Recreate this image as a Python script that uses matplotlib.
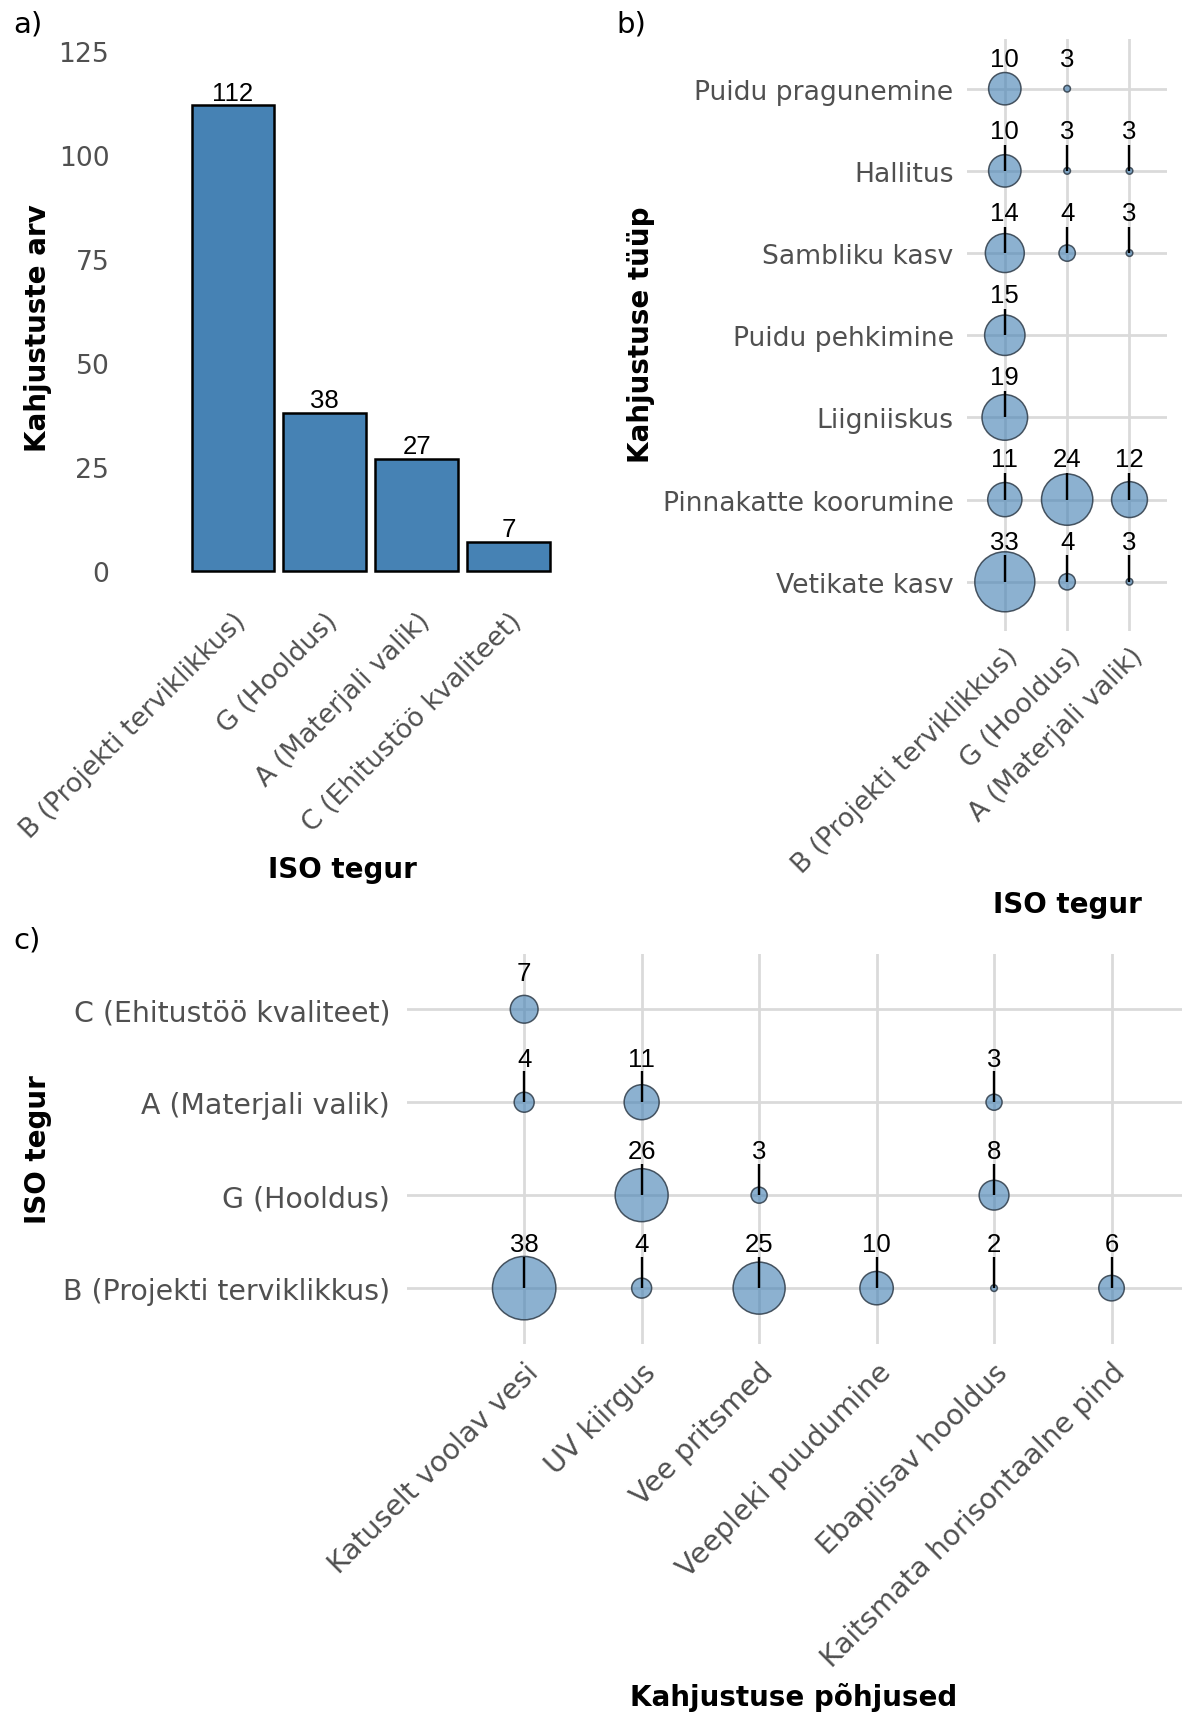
import numpy as np
import matplotlib
matplotlib.use("Agg")
import matplotlib.pyplot as plt

W, H = 1182, 1715
DPI = 100

# ---------------- data ----------------
iso_a = ["B (Projekti terviklikkus)", "G (Hooldus)", "A (Materjali valik)", "C (Ehitustöö kvaliteet)"]
count_a = [112, 38, 27, 7]
yticks_a = [0, 25, 50, 75, 100, 125]

damage_b = ["Puidu pragunemine", "Hallitus", "Sambliku kasv", "Puidu pehkimine",
            "Liigniiskus", "Pinnakatte koorumine", "Vetikate kasv"]
iso_b = ["B (Projekti terviklikkus)", "G (Hooldus)", "A (Materjali valik)"]
b_B = [10, 10, 14, 15, 19, 11, 33]
b_G = [3, 3, 4, None, None, 24, 4]
b_A = [None, 3, 3, None, None, 12, 3]

iso_c = ["C (Ehitustöö kvaliteet)", "A (Materjali valik)", "G (Hooldus)", "B (Projekti terviklikkus)"]
cause_c = ["Katuselt voolav vesi", "UV kiirgus", "Vee pritsmed", "Veepleki puudumine",
           "Ebapiisav hooldus", "Kaitsmata horisontaalne pind"]
c_C = [7, None, None, None, None, None]
c_A = [4, 11, None, None, 3, None]
c_G = [None, 26, 3, None, 8, None]
c_B = [38, 4, 25, 10, 2, 6]

# ---------------- style ----------------
TICK_COL = "#505050"
TICK_FS = 19.2
TICK_FS_C = 20.4
NUM_FS = 18.5
TITLE_FS = 20
LETTER_FS = 21
GRID_COL = "#DADADA"
FILL = "#4682B4"

plt.rcParams["font.family"] = ["DejaVu Sans"]

fig = plt.figure(figsize=(W / DPI, H / DPI), dpi=DPI)


def px_axes(l, t, r, b):
    return fig.add_axes([l / W, 1 - b / H, (r - l) / W, (b - t) / H])


def ftext(x, y, s, **kw):
    fig.text(x / W, 1 - y / H, s, **kw)


# ---------------- panel a ----------------
axa = px_axes(115, 26.5, 563.5, 597.8)
xa = np.arange(len(iso_a))
axa.bar(xa, count_a, width=0.9, color=FILL, edgecolor="black", linewidth=1.8, zorder=2)
for xi, v in zip(xa, count_a):
    axa.annotate(str(v), (xi, v), xytext=(0, 4.2), textcoords="offset points",
                 ha="center", va="baseline", fontsize=NUM_FS, family="Liberation Sans")
axa.set_xlim(-1.284, 3.6)
axa.set_ylim(-6.25, 131.25)
axa.set_yticks(yticks_a)
axa.set_yticklabels([str(t) for t in yticks_a], color=TICK_COL, fontsize=TICK_FS)
axa.set_xticks(xa)
axa.set_xticklabels(iso_a, rotation=45, ha="right", va="top", rotation_mode="anchor",
                    color=TICK_COL, fontsize=TICK_FS)
axa.tick_params(axis="both", length=0)
axa.tick_params(axis="y", pad=4)
axa.tick_params(axis="x", pad=8)
for s in axa.spines.values():
    s.set_visible(False)


# ---------------- bubble helper ----------------
def bubble_panel(ax, cols, rows, grid, rmin, rmax, off_main, off_free, seg_top, free_rows, tfs):
    vals = [v for row in grid for v in row if v is not None]
    vmin, vmax = min(vals), max(vals)
    for ri, row in enumerate(grid):
        for ci, v in enumerate(row):
            if v is None:
                continue
            r = rmin + (rmax - rmin) * np.sqrt((v - vmin) / (vmax - vmin))
            s = (2 * r * 72 / DPI) ** 2
            ax.scatter([ci], [ri], s=s, color=FILL, alpha=0.62, edgecolors="none", zorder=2)
            ax.scatter([ci], [ri], s=s, facecolors="none", edgecolors="#2E3B48",
                       linewidths=1.1, alpha=0.85, zorder=2.5)
            if ri in free_rows:
                ax.text(ci, ri - off_free, str(v), ha="center", va="center",
                        fontsize=NUM_FS, family="Liberation Sans", zorder=4)
            else:
                ax.text(ci, ri - off_main, str(v), ha="center", va="center",
                        fontsize=NUM_FS, family="Liberation Sans", zorder=4)
                ax.plot([ci, ci], [ri - seg_top, ri], color="black", lw=1.7,
                        solid_capstyle="butt", zorder=3)
    ax.set_xticks(np.arange(len(cols)))
    ax.set_yticks(np.arange(len(rows)))
    ax.set_yticklabels(rows, color=TICK_COL, fontsize=tfs)
    ax.set_xticklabels(cols, rotation=45, ha="right", va="top", rotation_mode="anchor",
                       color=TICK_COL, fontsize=tfs)
    ax.tick_params(axis="both", length=0)
    ax.grid(True, color=GRID_COL, lw=2.0, zorder=0)
    ax.set_axisbelow(True)
    for s in ax.spines.values():
        s.set_visible(False)


# ---------------- panel b ----------------
axb = px_axes(967.4, 40.4, 1166.9, 632.1)
grid_b = [[b_B[i], b_G[i], b_A[i]] for i in range(len(damage_b))]
bubble_panel(axb, iso_b, damage_b, grid_b, 3.3, 30.0, 0.49, 0.36, 0.32, free_rows=[0], tfs=TICK_FS)
axb.set_xlim(-0.6, 2.6)
axb.set_ylim(len(damage_b) - 1 + 0.6, -0.6)
axb.tick_params(axis="y", pad=10)
axb.tick_params(axis="x", pad=8)

# ---------------- panel c ----------------
axc = px_axes(406.7, 954.5, 1182, 1344.9)
grid_c = [c_C, c_A, c_G, c_B]
bubble_panel(axc, cause_c, iso_c, grid_c, 3.3, 31.7, 0.47, 0.39, 0.34, free_rows=[0], tfs=TICK_FS_C)
axc.set_xlim(-1.0, 5.6)
axc.set_ylim(len(iso_c) - 1 + 0.6, -0.6)
axc.tick_params(axis="y", pad=12)
axc.tick_params(axis="x", pad=10)

# ---------------- titles / panel letters ----------------
ftext(28, 25, "a)", fontsize=LETTER_FS, ha="center", va="center")
ftext(631, 25, "b)", fontsize=LETTER_FS, ha="center", va="center")
ftext(27, 941, "c)", fontsize=LETTER_FS, ha="center", va="center")

ftext(38, 328, "Kahjustuste arv", fontsize=TITLE_FS, weight="bold", rotation=90, ha="center", va="center")
ftext(641, 335, "Kahjustuse tüüp", fontsize=TITLE_FS, weight="bold", rotation=90, ha="center", va="center")
ftext(38, 1150, "ISO tegur", fontsize=TITLE_FS, weight="bold", rotation=90, ha="center", va="center")

ftext(342, 870, "ISO tegur", fontsize=TITLE_FS, weight="bold", ha="center", va="center")
ftext(1067, 905, "ISO tegur", fontsize=TITLE_FS, weight="bold", ha="center", va="center")
ftext(794, 1698, "Kahjustuse põhjused", fontsize=TITLE_FS, weight="bold", ha="center", va="center")

fig.savefig("out.png", dpi=DPI)
